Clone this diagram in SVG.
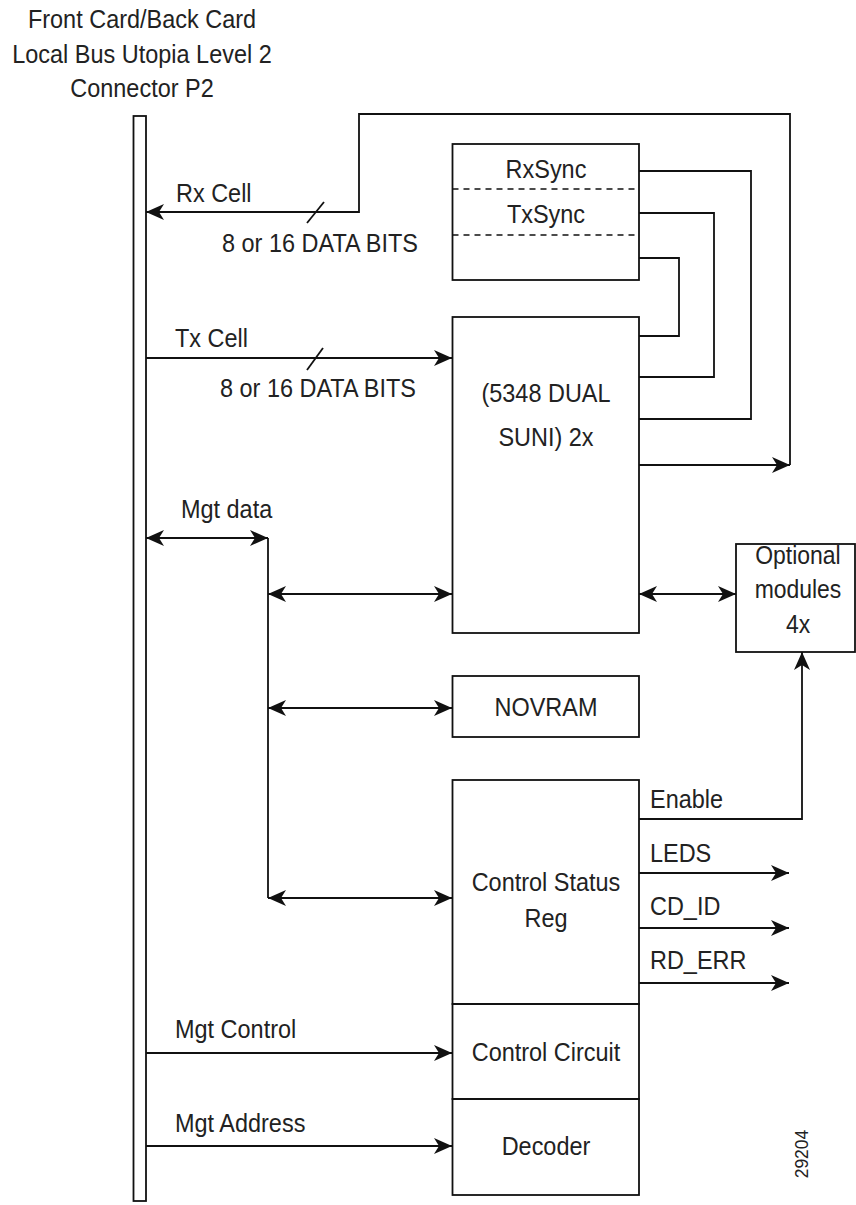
<svg xmlns="http://www.w3.org/2000/svg" width="856" height="1205" viewBox="0 0 856 1205">
<defs>
<marker id="ah" markerUnits="userSpaceOnUse" markerWidth="20" markerHeight="18" viewBox="0 -9 19 18" refX="18" refY="0" orient="auto-start-reverse">
<path d="M0,-8 L18,0 L0,8 L5,0 z" fill="#111"/>
</marker>
<style>
text{font-family:"Liberation Sans",Arial,sans-serif;font-size:25.5px;fill:#222}
.c{text-anchor:middle}
.box{fill:none;stroke:#111;stroke-width:1.8}
.ln{fill:none;stroke:#111;stroke-width:1.8}
.a{marker-end:url(#ah)}
.aa{marker-start:url(#ah);marker-end:url(#ah)}
.dash{stroke:#111;stroke-width:1.5;stroke-dasharray:6,5}
</style>
</defs>
<rect width="856" height="1205" fill="#fff"/>

<g id="bus">
<rect class="box" x="133.5" y="116" width="12.5" height="1085"/>
<g transform="scale(0.92,1)">
<text class="c" x="154.35" y="28">Front Card/Back Card</text>
<text class="c" x="154.35" y="63">Local Bus Utopia Level 2</text>
<text class="c" x="154.35" y="97">Connector P2</text>
</g>
</g>

<g id="sync">
<rect class="box" x="452.5" y="144" width="186.5" height="136"/>
<line class="dash" x1="452.5" y1="189" x2="639" y2="189"/>
<line class="dash" x1="452.5" y1="235" x2="639" y2="235"/>
<g transform="scale(0.92,1)">
<text class="c" x="593.48" y="178">RxSync</text>
<text class="c" x="593.48" y="223">TxSync</text>
</g>
</g>

<g id="suni">
<rect class="box" x="452.5" y="317" width="186.5" height="316"/>
<g transform="scale(0.92,1)">
<text class="c" x="593.48" y="402">(5348 DUAL</text>
<text class="c" x="593.48" y="446">SUNI) 2x</text>
</g>
</g>

<g id="optional">
<rect class="box" x="736" y="544" width="119" height="108"/>
<g transform="scale(0.9,1)">
<text class="c" x="886.67" y="564">Optional</text>
<text class="c" x="886.67" y="598">modules</text>
<text class="c" x="886.67" y="633">4x</text>
</g>
</g>

<g id="novram">
<rect class="box" x="452.5" y="676" width="186.5" height="61"/>
<g transform="scale(0.92,1)">
<text class="c" x="593.48" y="716">NOVRAM</text>
</g>
</g>

<g id="csr">
<rect class="box" x="452.5" y="780" width="186.5" height="224"/>
<g transform="scale(0.92,1)">
<text class="c" x="593.48" y="891">Control Status</text>
<text class="c" x="593.48" y="927">Reg</text>
</g>
</g>

<g id="ctrl">
<rect class="box" x="452.5" y="1004" width="186.5" height="95"/>
<g transform="scale(0.92,1)">
<text class="c" x="593.48" y="1061">Control Circuit</text>
</g>
</g>

<g id="decoder">
<rect class="box" x="452.5" y="1099" width="186.5" height="96"/>
<g transform="scale(0.92,1)">
<text class="c" x="593.48" y="1155">Decoder</text>
</g>
</g>

<g id="connectors">
<path class="ln a" d="M790,465 V114 H359 V212 H146"/>
<line class="ln" x1="307" y1="223" x2="324" y2="202"/>
<line class="ln a" x1="146" y1="358" x2="452" y2="358"/>
<line class="ln" x1="307" y1="370" x2="323" y2="348"/>
<path class="ln" d="M639,171 H751 V419 H639"/>
<path class="ln" d="M639,213 H714 V377 H639"/>
<path class="ln" d="M639,258 H679 V336 H639"/>
<line class="ln a" x1="639" y1="465" x2="790" y2="465"/>
<line class="ln aa" x1="146" y1="538" x2="268" y2="538"/>
<line class="ln" x1="268" y1="538" x2="268" y2="898"/>
<line class="ln aa" x1="268" y1="594" x2="452" y2="594"/>
<line class="ln aa" x1="268" y1="708" x2="452" y2="708"/>
<line class="ln aa" x1="268" y1="898" x2="452" y2="898"/>
<line class="ln aa" x1="639" y1="594" x2="736" y2="594"/>
<path class="ln a" d="M639,819 H802 V652"/>
<line class="ln a" x1="639" y1="873" x2="789" y2="873"/>
<line class="ln a" x1="639" y1="928" x2="789" y2="928"/>
<line class="ln a" x1="639" y1="983" x2="789" y2="983"/>
<line class="ln a" x1="146" y1="1053" x2="452" y2="1053"/>
<line class="ln a" x1="146" y1="1146" x2="452" y2="1146"/>
<g transform="scale(0.92,1)">
<text x="191.3" y="202">Rx Cell</text>
<text x="241.3" y="252">8 or 16 DATA BITS</text>
<text x="190.2" y="347">Tx Cell</text>
<text x="239.1" y="397">8 or 16 DATA BITS</text>
<text x="196.7" y="518">Mgt data</text>
<text x="706.5" y="808">Enable</text>
<text x="706.5" y="862">LEDS</text>
<text x="706.5" y="915">CD_ID</text>
<text x="706.5" y="969">RD_ERR</text>
<text x="190.2" y="1038">Mgt Control</text>
<text x="190.2" y="1132">Mgt Address</text>
</g>
</g>

<text x="808" y="1154" style="font-size:17.5px" class="c" transform="rotate(-90 808 1154)">29204</text>
</svg>
